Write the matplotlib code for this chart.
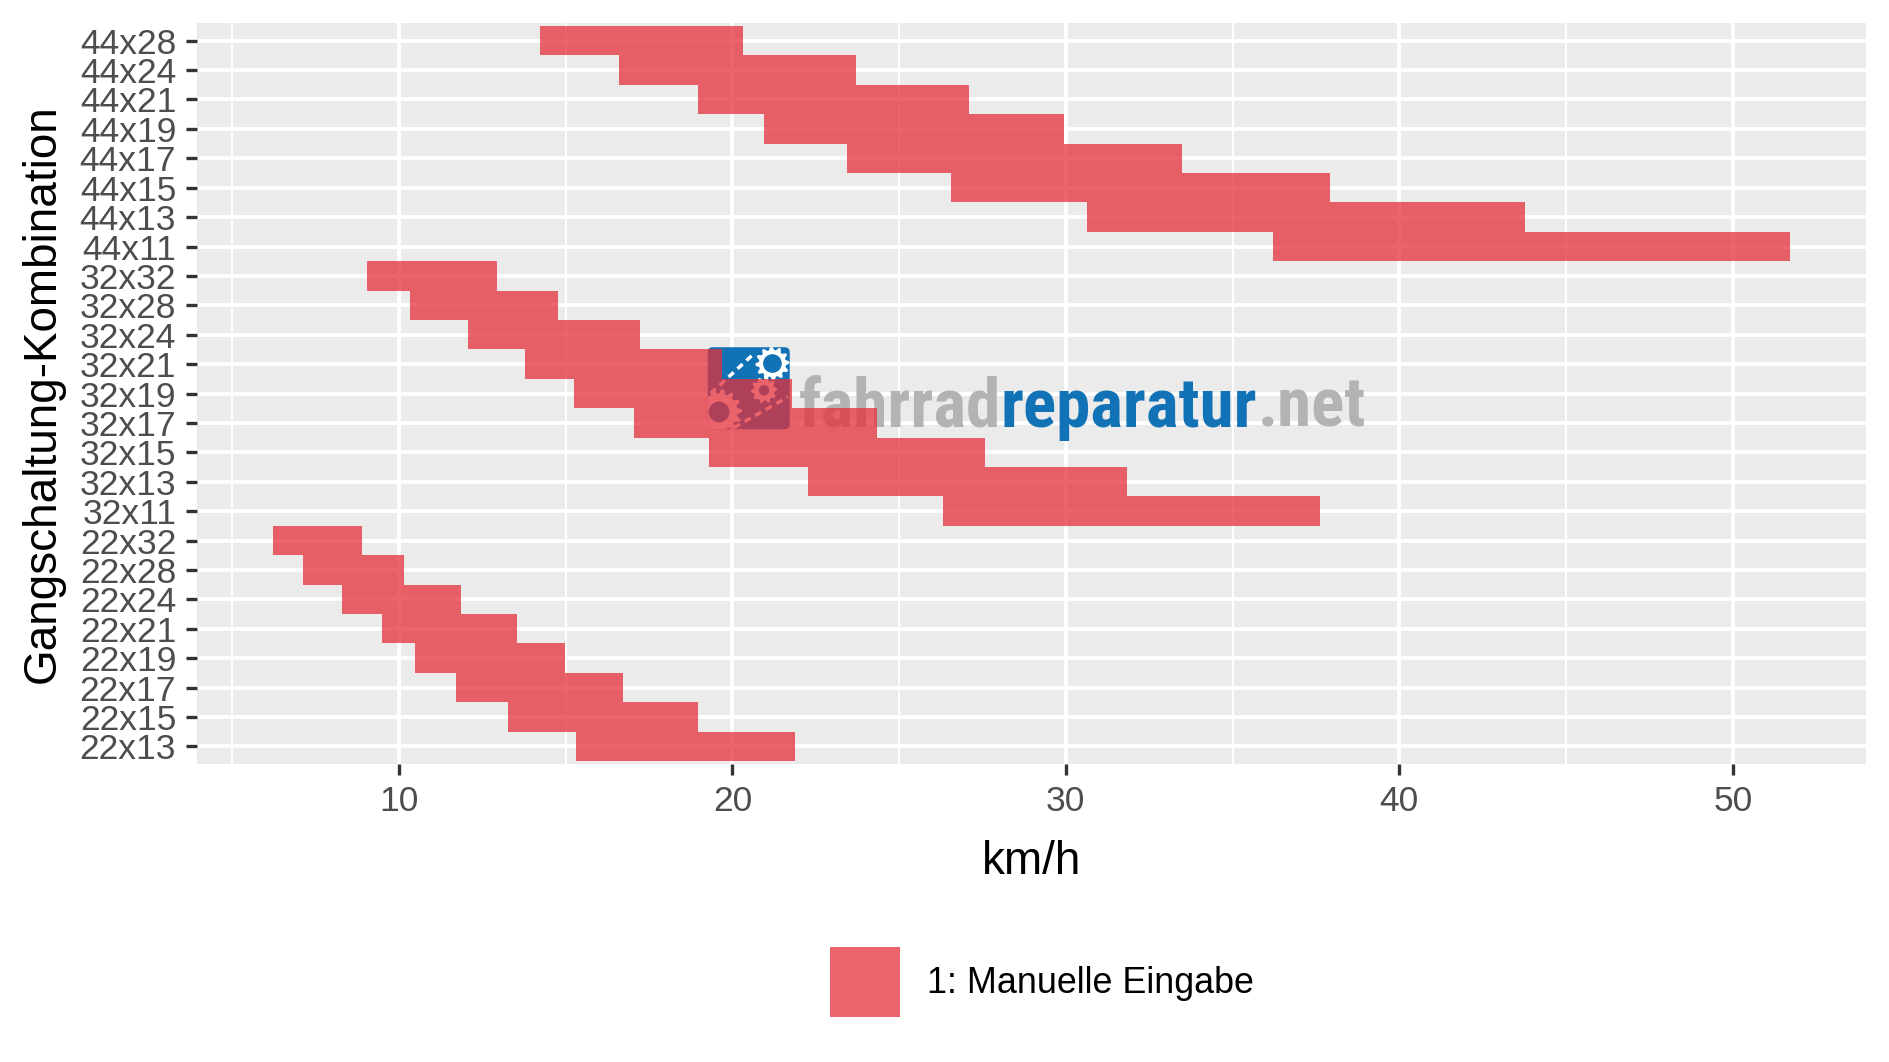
import numpy as np
import matplotlib
matplotlib.use("Agg")
from matplotlib import pyplot as plt
from matplotlib import font_manager
import matplotlib.ticker as tck
import matplotlib.transforms as mtransforms
from matplotlib.patches import Patch, FancyBboxPatch, Polygon, Circle

plt.rcParams.update({
    "font.family": ["Liberation Sans", "DejaVu Sans"],
})

# gear combinations, bottom to top
GEARS = ["22x13", "22x15", "22x17", "22x19", "22x21", "22x24", "22x28", "22x32",
         "32x11", "32x13", "32x15", "32x17", "32x19", "32x21", "32x24", "32x28", "32x32",
         "44x11", "44x13", "44x15", "44x17", "44x19", "44x21", "44x24", "44x28"]
SPEED_LOW = [15.32, 13.27, 11.71, 10.48, 9.48, 8.30, 7.11, 6.22,
             26.33, 22.28, 19.31, 17.04, 15.24, 13.79, 12.07, 10.34, 9.05,
             36.20, 30.63, 26.55, 23.43, 20.96, 18.96, 16.59, 14.22]
SPEED_HIGH = [21.88, 18.96, 16.73, 14.97, 13.55, 11.85, 10.16, 8.89,
              37.61, 31.83, 27.58, 24.34, 21.78, 19.70, 17.24, 14.78, 12.93,
              51.72, 43.76, 37.93, 33.47, 29.94, 27.09, 23.71, 20.32]
X_TICKS = [10, 20, 30, 40, 50]
LEGEND_LABEL = "1: Manuelle Eingabe"
LOGO_PARTS = ["fahrrad", "reparatur", ".net"]

BAR_COLOR = "#E5303A"
BAR_ALPHA = 0.75
LOGO_GRAY = "#B3B3B3"
LOGO_BLUE = "#1272B6"

fig = plt.figure(figsize=(18.89, 10.62), dpi=100)
ax = fig.add_axes([0.1043, 0.2806, 0.8835, 0.6977])

ypos = np.arange(len(GEARS))
low = np.array(SPEED_LOW)
high = np.array(SPEED_HIGH)
ax.barh(ypos, high - low, left=low, height=1.0, color=BAR_COLOR,
        alpha=BAR_ALPHA, linewidth=0, zorder=2)

span = high.max() - low.min()
ax.set_xlim(low.min() - 0.05 * span, high.max() + 0.05 * span)
ax.set_ylim(-0.6, len(GEARS) - 0.4)
ax.set_yticks(ypos, GEARS)
ax.xaxis.set_major_locator(tck.FixedLocator(X_TICKS))
ax.xaxis.set_minor_locator(tck.MultipleLocator(5))

# ggplot-like styling
ax.set_facecolor("#EBEBEB")
for s in ax.spines.values():
    s.set_visible(False)
ax.set_axisbelow(True)
ax.grid(which="major", color="white", linewidth=2.8)
ax.grid(which="minor", axis="x", color="white", linewidth=1.4)
ax.tick_params(which="major", length=8, width=2.4, color="#333333",
               labelsize=25.5, labelcolor="#4D4D4D", pad=7)
ax.tick_params(which="minor", length=0)
ax.set_xlabel("km/h", fontsize=33, labelpad=16)
ax.set_ylabel("Gangschaltung-Kombination", fontsize=33, labelpad=11)


# watermark (sits under the bars)
def pick_font(cands):
    names = {f.name for f in font_manager.fontManager.ttflist}
    return next((c for c in cands if c in names), "Liberation Sans")


logo_font = pick_font(["Roboto Condensed", "Liberation Sans Narrow", "Liberation Sans"])
logo_colors = [LOGO_GRAY, LOGO_BLUE, LOGO_GRAY]
parts = [ax.text(21.98, 10.87, LOGO_PARTS[0], color=logo_colors[0], fontsize=74,
                 family=logo_font, weight="bold", ha="left", va="baseline", zorder=1.5)]
for word, col in zip(LOGO_PARTS[1:], logo_colors[1:]):
    parts.append(ax.annotate(word, xy=(1, 0), xycoords=parts[-1], color=col,
                             fontsize=74, family=logo_font, weight="bold",
                             ha="left", va="bottom", zorder=1.5))
fig.canvas.draw()
r = fig.canvas.get_renderer()
w = parts[-1].get_window_extent(r).x1 - parts[0].get_window_extent(r).x0
for p in parts:
    p.set_fontsize(74 * 567 / w)

icon_tr = fig.dpi_scale_trans + mtransforms.ScaledTranslation(20.49, 12.18, ax.transData)
box = FancyBboxPatch((-0.41, -0.41), 0.82, 0.82, boxstyle="round,pad=0,rounding_size=0.05",
                     fc=LOGO_BLUE, ec="none", transform=icon_tr, zorder=1.5)
ax.add_patch(box)


def gear(cx, cy, rad, teeth, hole):
    ang = np.linspace(0, 2 * np.pi, teeth * 4, endpoint=False)
    rr = np.tile([rad, rad, rad * 0.8, rad * 0.8], teeth)
    g = Polygon(np.c_[cx + rr * np.cos(ang), cy + rr * np.sin(ang)], fc="white",
                ec="none", transform=icon_tr, zorder=1.6)
    h = Circle((cx, cy), rad * hole, fc=LOGO_BLUE, ec="none", transform=icon_tr, zorder=1.6)
    for a in (g, h):
        ax.add_patch(a)
        a.set_clip_path(box)


gear(0.237, 0.247, 0.17, 12, 0.55)
gear(0.153, -0.02, 0.13, 10, 0.4)
gear(-0.297, -0.237, 0.23, 14, 0.45)
for (x0, y0), (x1, y1) in [((-0.38, -0.053), (0.053, 0.347)),
                           ((-0.147, -0.393), (0.393, -0.087))]:
    ln, = ax.plot([x0, x1], [y0, y1], color="white", linewidth=2.5,
                  linestyle=(0, (2, 1.5)), transform=icon_tr, zorder=1.6)
    ln.set_clip_path(box)

fig.legend(handles=[Patch(facecolor=BAR_COLOR, alpha=BAR_ALPHA, edgecolor="none")],
           labels=[LEGEND_LABEL], loc="center", bbox_to_anchor=(0.5516, 0.0753),
           frameon=False, fontsize=25.8, handlelength=1.95, handleheight=2.6,
           handletextpad=0.75)

fig.savefig("out.png", dpi=100)
